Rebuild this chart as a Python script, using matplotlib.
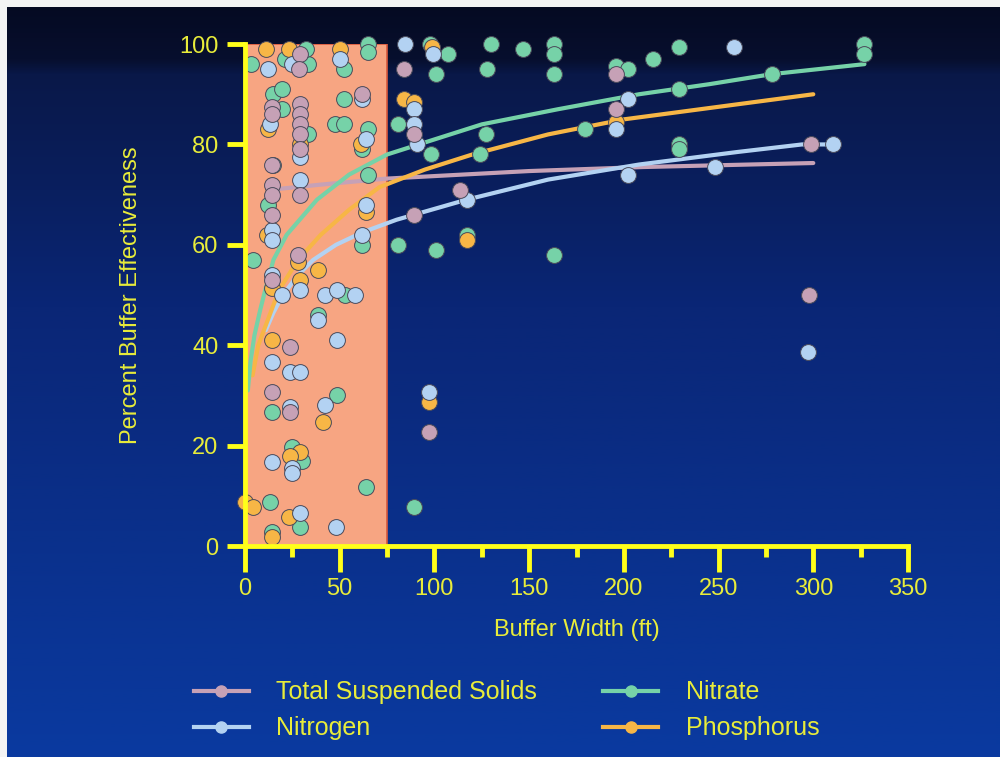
import numpy as np
import matplotlib
matplotlib.use('Agg')
import matplotlib.pyplot as plt
from matplotlib.lines import Line2D

plt.rcParams['font.family'] = ['Liberation Sans', 'DejaVu Sans']

# ---- scatter data (buffer width ft, percent effectiveness) ----
nitrate_x = [3, 21, 33, 32, 65, 65, 52, 15, 19.5, 52, 19.5, 33, 47.5, 52, 65, 62, 15, 12, 65, 4,
             62, 53, 38.5, 48.5, 14, 25, 30, 64, 13, 29, 14,
             97.7, 107, 130, 147, 163, 163, 101, 128, 163, 196, 202, 81, 127, 98, 124, 179.5,
             81, 101, 117, 163, 229, 215.5, 327, 327, 278, 229, 229, 229, 89]
nitrate_y = [96, 97, 96, 99, 100, 98.5, 95, 90, 91, 89, 87, 82, 84, 84, 83, 79, 76, 68, 74, 57,
             60, 50, 46, 30, 26.7, 19.7, 17, 11.8, 8.8, 3.8, 2.8,
             100, 98, 100, 99, 100, 98, 94, 95, 94, 95.6, 95, 84, 82, 78, 78, 83,
             60, 59, 62, 58, 99.4, 97, 100, 98, 94, 91, 80, 79, 7.8]

phos_x = [11, 23, 50, 12, 61, 29, 11.5, 64, 28, 38.5, 14, 29, 14, 41, 29, 24, 0, 4, 23, 14,
          98.7, 84, 89, 196, 117, 97]
phos_y = [99, 99, 99, 83, 80, 80, 62, 66.5, 56.5, 55, 51.5, 53, 41, 24.7, 18.7, 18, 8.8, 7.8, 5.8, 1.8,
          99.5, 89, 88.5, 84.4, 61, 28.7]

nitrogen_x = [12, 25, 50, 62, 13, 64, 29, 29, 64, 14, 14, 62, 14, 19.5, 29, 42, 48.5, 58, 38.5, 48.5,
              14, 24, 29, 24, 42, 14, 25, 25, 29, 48,
              84.5, 99, 89, 202, 89, 91, 196, 202, 117, 258, 310.5, 248, 297, 97]
nitrogen_y = [95, 96, 97, 89, 84, 81, 77.5, 73, 68, 63, 61, 62, 54, 50, 51, 50, 51, 50, 45, 41,
              36.7, 34.7, 34.7, 27.7, 28, 16.7, 15.5, 14.5, 6.6, 3.8,
              100, 98, 87, 89, 84, 80, 83, 74, 69, 99.4, 80, 75.5, 38.6, 30.7]

tss_x = [29, 28.5, 62, 14, 29, 29, 14, 29, 29, 29, 14, 14, 29, 14, 14, 28, 14, 24, 14, 24,
         84, 196, 89, 196, 113.5, 89, 299, 298, 97]
tss_y = [98, 95, 90, 87.5, 88, 86, 86, 84, 82, 79, 76, 72, 70, 70, 66, 58, 53, 39.6, 30.7, 26.7,
         95, 94, 82, 87, 71, 66, 80, 50, 22.7]

# ---- trend lines ----
nitrate_fit_x = [1.5, 3, 5, 8, 10, 15, 22, 38, 55, 75, 100, 125, 165, 208, 245, 278, 327]
nitrate_fit_y = [31, 37, 42, 47, 50, 57, 62, 69, 74, 78, 81, 84, 87, 90, 92, 94, 96]

phos_fit_x = [4, 7, 12, 18, 28, 40, 55, 71, 95, 120, 160, 200, 250, 300]
phos_fit_y = [34, 40, 45, 51, 57, 62, 67, 71.5, 75, 78, 82, 85, 87.5, 90]

nitrogen_fit_x = [11, 15, 20, 28, 36, 48, 62, 80, 117, 160, 208, 260, 294, 310]
nitrogen_fit_y = [43, 46.5, 50, 54, 57, 60, 62.5, 65, 69, 73, 76, 78.5, 80, 80]

tss_fit_x = [14, 40, 75, 150, 210, 300]
tss_fit_y = [71, 72, 73.2, 74.7, 75.5, 76.3]

C_NITRATE = '#76d2a8'
C_PHOS = '#f7b646'
C_NITROGEN = '#b3d2f2'
C_TSS = '#c6a1b6'
YELLOW = '#ffff1a'
TEXT = '#e8ec3a'

fig = plt.figure(figsize=(10, 7.57), dpi=100, facecolor='#f4f4f4')

# slide background gradient
bg = fig.add_axes([0.007, 0.0, 0.993, 0.991])
bg.axis('off')
stops = np.array([0.0, 0.07, 0.09, 0.4, 1.0])
cols = np.array([[5, 10, 34], [7, 15, 46], [9, 24, 72], [10, 38, 118], [10, 58, 160]]) / 255.0
t = np.linspace(0, 1, 400)
grad = np.stack([np.interp(t, stops, cols[:, k]) for k in range(3)], axis=1)[:, None, :]
bg.imshow(grad, aspect='auto', extent=[0, 1, 0, 1])

ax = fig.add_axes([0.245, 0.2787, 0.663, 0.6631])
ax.patch.set_alpha(0)
ax.set_xlim(0, 350)
ax.set_ylim(0, 100)

ax.axvspan(0, 75, facecolor='#f7a582', edgecolor='#d8583c', linewidth=1.2, zorder=1)

for fx, fy, c in [(tss_fit_x, tss_fit_y, C_TSS), (nitrogen_fit_x, nitrogen_fit_y, C_NITROGEN),
                  (phos_fit_x, phos_fit_y, C_PHOS), (nitrate_fit_x, nitrate_fit_y, C_NITRATE)]:
    ax.plot(fx, fy, color=c, lw=3, solid_capstyle='round', zorder=2)

for sx, sy, c in [(nitrate_x, nitrate_y, C_NITRATE), (phos_x, phos_y, C_PHOS),
                  (nitrogen_x, nitrogen_y, C_NITROGEN), (tss_x, tss_y, C_TSS)]:
    ax.scatter(sx, sy, s=130, color=c, edgecolors='#4a4a5a', linewidths=0.7,
               zorder=3, clip_on=False)

for side in ['top', 'right']:
    ax.spines[side].set_visible(False)
for side in ['left', 'bottom']:
    ax.spines[side].set_color(YELLOW)
    ax.spines[side].set_linewidth(3.5)
    ax.spines[side].set_zorder(4)

ax.set_xticks(np.arange(0, 351, 50))
ax.set_xticks(np.arange(25, 351, 50), minor=True)
ax.set_yticks(np.arange(0, 101, 20))
ax.tick_params(axis='both', which='major', colors=YELLOW, labelcolor=TEXT,
               width=3.5, length=13, labelsize=17, pad=6, direction='out')
ax.tick_params(axis='x', which='major', length=19, pad=4)
ax.tick_params(axis='x', which='minor', colors=YELLOW, width=3.5, length=8, direction='out')

ax.set_xlabel('Buffer Width (ft)', color=TEXT, fontsize=17, labelpad=14)
ax.set_ylabel('Percent Buffer Effectiveness', color=TEXT, fontsize=17, labelpad=27)

handles = [Line2D([], [], color=C_TSS, lw=3, marker='o', ms=8, mec=C_TSS),
           Line2D([], [], color=C_NITROGEN, lw=3, marker='o', ms=8, mec=C_NITROGEN),
           Line2D([], [], color=C_NITRATE, lw=3, marker='o', ms=8, mec=C_NITRATE),
           Line2D([], [], color=C_PHOS, lw=3, marker='o', ms=8, mec=C_PHOS)]
labels = ['Total Suspended Solids', 'Nitrogen', 'Nitrate', 'Phosphorus']
leg = fig.legend(handles, labels, loc='upper left', bbox_to_anchor=(0.171, 0.131), ncol=2,
                 frameon=False, fontsize=18, handlelength=2.2, handletextpad=1.1,
                 columnspacing=2.65, labelspacing=0.48, numpoints=1)
for txt in leg.get_texts():
    txt.set_color(TEXT)

fig.savefig('out.png', dpi=100, facecolor=fig.get_facecolor())
